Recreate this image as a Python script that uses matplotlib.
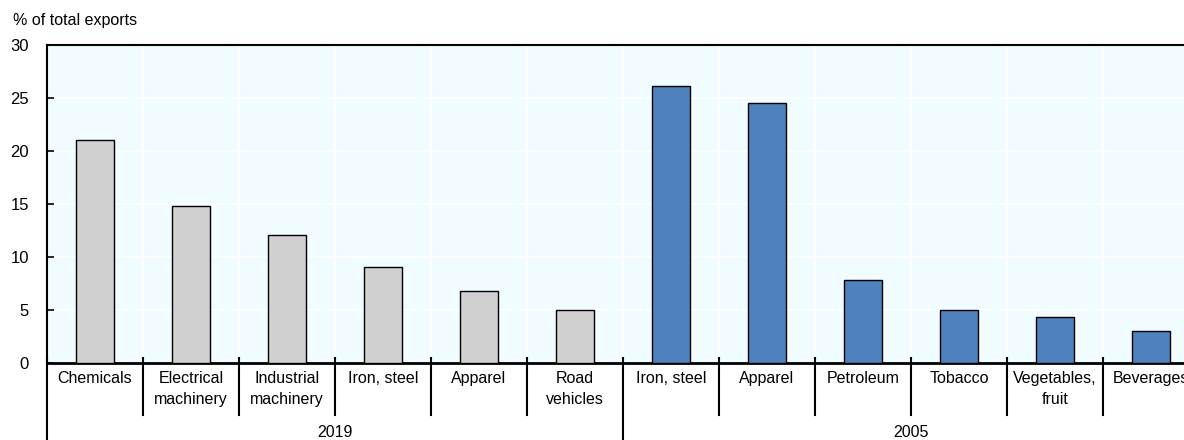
import numpy as np
import matplotlib
matplotlib.use("Agg")
import matplotlib.pyplot as plt
from matplotlib.transforms import blended_transform_factory

plt.rcParams['font.family'] = ['Liberation Sans', 'DejaVu Sans']

# Data
labels_2019 = ["Chemicals", "Electrical\nmachinery", "Industrial\nmachinery",
               "Iron, steel", "Apparel", "Road\nvehicles"]
values_2019 = [21.0, 14.8, 12.1, 9.05, 6.8, 5.0]
labels_2005 = ["Iron, steel", "Apparel", "Petroleum", "Tobacco",
               "Vegetables,\nfruit", "Beverages"]
values_2005 = [26.1, 24.5, 7.8, 5.0, 4.3, 3.0]
groups = ["2019", "2005"]

W, H = 1184, 440
fig = plt.figure(figsize=(W / 100, H / 100), dpi=100)
ax_left, ax_bottom, ax_w, ax_h = 47, 77, 1152, 318
ax = fig.add_axes([ax_left / W, ax_bottom / H, ax_w / W, ax_h / H])
ax.set_facecolor('#f0fcff')

n1 = len(values_2019)
n2 = len(values_2005)
x1 = np.arange(n1)
x2 = np.arange(n2) + n1

ax.bar(x1, values_2019, width=0.4, color='#d0d0d0', edgecolor='black', linewidth=1, zorder=3)
ax.bar(x2, values_2005, width=0.4, color='#4f81bd', edgecolor='black', linewidth=1, zorder=3)

ax.set_xlim(-0.5, n1 + n2 - 0.5)
ax.set_ylim(0, 30)
ax.set_yticks([0, 5, 10, 15, 20, 25, 30])
ax.tick_params(axis='y', direction='in', length=5, width=1.2, labelsize=12, pad=13)

# grid: white lines at y ticks and at category boundaries
ax.set_xticks(np.arange(-0.5, n1 + n2, 1.0), minor=True)
ax.set_xticks([])
ax.tick_params(axis='x', which='both', length=0)
ax.grid(True, axis='y', color='white', linewidth=1.2, zorder=0)
ax.grid(True, axis='x', which='minor', color='white', linewidth=1.2, zorder=0)
ax.set_axisbelow(True)

for side in ['left', 'top', 'bottom']:
    ax.spines[side].set_color('black')
    ax.spines[side].set_linewidth(1.5)
ax.spines['bottom'].set_linewidth(2)
ax.spines['right'].set_visible(False)

# category labels and separators below the axis
trans = blended_transform_factory(ax.transData, ax.transAxes)
px = 1.0 / ax_h
all_labels = labels_2019 + labels_2005
for i, lab in enumerate(all_labels):
    ax.text(i, -8 * px, lab, transform=trans, ha='center', va='top',
            fontsize=11.5, linespacing=1.5)

for b in np.arange(-0.5, n1 + n2, 1.0):
    if b in (-0.5, n1 - 0.5):
        bottom = -ax_bottom * px
    else:
        bottom = -52 * px
    ax.plot([b, b], [5 * px, bottom], transform=trans, color='black',
            linewidth=1.5, clip_on=False, zorder=4)

# group labels
for g, (start, n) in zip(groups, [(0, n1), (n1, n2)]):
    ax.text(start + (n - 1) / 2, -69 * px, g, transform=trans, ha='center',
            va='center', fontsize=11.5)

fig.text(13 / W, 1 - 20 / H, "% of total exports", ha='left', va='center', fontsize=11.5)

fig.savefig("out.png", dpi=100)
